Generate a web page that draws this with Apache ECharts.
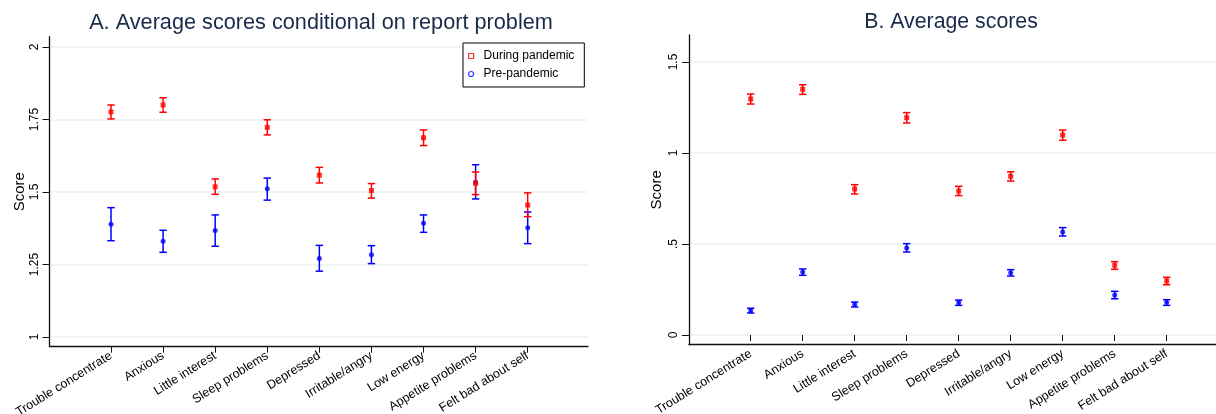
<!DOCTYPE html>
<html>
<head>
<meta charset="utf-8">
<script src="https://cdn.jsdelivr.net/npm/echarts@6/dist/echarts.min.js"></script>
<style>html,body{margin:0;padding:0;background:#fff;}#c{width:1216px;height:414px;}</style>
</head>
<body>
<div id="c"></div>
<script>
const categories = ['Trouble concentrate','Anxious','Little interest','Sleep problems','Depressed','Irritable/angry','Low energy','Appetite problems','Felt bad about self'];

// Panel A: average scores conditional on report problem
const A_during_mean = [1.776,1.800,1.518,1.723,1.558,1.505,1.687,1.530,1.455];
const A_during_lo   = [1.752,1.775,1.492,1.697,1.531,1.479,1.660,1.491,1.415];
const A_during_hi   = [1.800,1.825,1.545,1.749,1.585,1.529,1.714,1.569,1.497];
const A_pre_mean    = [1.389,1.330,1.367,1.511,1.271,1.284,1.392,1.534,1.377];
const A_pre_lo      = [1.332,1.292,1.313,1.472,1.227,1.253,1.361,1.476,1.322];
const A_pre_hi      = [1.446,1.368,1.421,1.548,1.316,1.315,1.421,1.594,1.431];

// Panel B: average scores
const B_during_mean = [1.297,1.350,0.802,1.194,0.791,0.872,1.099,0.383,0.297];
const B_during_lo   = [1.269,1.322,0.775,1.165,0.766,0.846,1.070,0.361,0.276];
const B_during_hi   = [1.324,1.375,0.826,1.222,0.817,0.897,1.126,0.403,0.317];
const B_pre_mean    = [0.134,0.346,0.168,0.478,0.178,0.342,0.566,0.220,0.180];
const B_pre_lo      = [0.121,0.328,0.154,0.456,0.163,0.324,0.544,0.199,0.163];
const B_pre_hi      = [0.147,0.363,0.181,0.502,0.192,0.359,0.590,0.240,0.194];

const A_ticks = [1, 1.25, 1.5, 1.75, 2];
const B_tickLabels = {0:'0', 0.5:'.5', 1:'1', 1.5:'1.5'};

const FONT = 'Liberation Sans, Arial, Helvetica, sans-serif';
const RED = '#ff0000', BLUE = '#0000ff';
const GRIDC = '#eaf2f3';
const AXC = '#111';

const chart = echarts.init(document.getElementById('c'), null, {renderer:'canvas'});

function errRender(color){
  return function(params, api){
    const x = api.value(0);
    const lo = api.coord([x, api.value(1)]);
    const hi = api.coord([x, api.value(2)]);
    const hw = 3.7;
    const st = {stroke: color, lineWidth: 1.5};
    return {type:'group', children:[
      {type:'line', shape:{x1:lo[0], y1:lo[1], x2:hi[0], y2:hi[1]}, style:st},
      {type:'line', shape:{x1:lo[0]-hw, y1:lo[1], x2:lo[0]+hw, y2:lo[1]}, style:st},
      {type:'line', shape:{x1:hi[0]-hw, y1:hi[1], x2:hi[0]+hw, y2:hi[1]}, style:st}
    ]};
  };
}
function ciData(lo, hi){ return categories.map((c,i)=>[i, lo[i], hi[i]]); }

const hidden = {show:false};
function frameX(gi){ return {gridIndex:gi, type:'value', min:0, max:1, axisLine:{show:true, onZero:false, lineStyle:{color:AXC, width:1.3}}, axisTick:hidden, axisLabel:hidden, splitLine:hidden}; }
function frameY(gi, gap){ return {gridIndex:gi, type:'value', min:0, max:1, axisLine:{show:true, onZero:false, lineStyle:{color:AXC, width:1.3}}, axisTick:hidden, axisLabel:hidden, splitLine:hidden,
  name:'Score', nameLocation:'middle', nameGap:gap, nameTextStyle:{fontFamily:FONT, fontSize:15, color:'#000'}}; }
function catX(gi){
  return {gridIndex:gi, type:'category', data:categories, boundaryGap:false, offset:9.7,
    axisLine:{show:false}, axisTick:{show:true, length:6, interval:0, lineStyle:{color:AXC, width:1}},
    axisLabel:{interval:0, rotate:32, fontSize:12.5, fontFamily:FONT, color:'#000', margin:8},
    splitLine:hidden};
}
function g(o){ return Object.assign({containLabel:false, outerBoundsMode:'none'}, o); }

const option = {
  animation:false,
  backgroundColor:'#fff',
  title:[
    {text:'A. Average scores conditional on report problem', left:316, top:7, textAlign:'center',
     textStyle:{fontFamily:FONT, fontSize:21.7, fontWeight:'normal', color:'#1a2a4a'}},
    {text:'B. Average scores', left:946, top:7, textAlign:'center',
     textStyle:{fontFamily:FONT, fontSize:21.3, fontWeight:'normal', color:'#1a2a4a'}}
  ],
  legend:{
    orient:'vertical', left:463, top:43, itemWidth:5, itemHeight:5, itemGap:6,
    padding:[7,10,7,5], borderColor:'#000', borderWidth:1, backgroundColor:'#fff',
    textStyle:{fontFamily:FONT, fontSize:12, color:'#000', padding:[0,0,0,5]},
    data:[
      {name:'During pandemic', icon:'rect', itemStyle:{color:'#fff', borderColor:RED, borderWidth:1.2}},
      {name:'Pre-pandemic', icon:'circle', itemStyle:{color:'#fff', borderColor:BLUE, borderWidth:1.2}}
    ]
  },
  grid:[
    g({left:49.5, top:36.7, width:538.5, height:310}),   // 0 frame A
    g({left:49.5, top:47, width:538.5, height:290}),     // 1 gridlines A
    g({left:111, top:47, width:416.7, height:290}),      // 2 data A
    g({left:689, top:35, width:540, height:309.7}),      // 3 frame B
    g({left:689, top:62, width:540, height:273}),        // 4 gridlines B
    g({left:750.7, top:62, width:416, height:273})       // 5 data B
  ],
  xAxis:[
    frameX(0),
    {gridIndex:1, type:'value', min:0, max:1, show:false},
    catX(2),
    frameX(3),
    {gridIndex:4, type:'value', min:0, max:1, show:false},
    catX(5)
  ],
  yAxis:[
    frameY(0, 22),
    {gridIndex:1, type:'value', min:A_ticks[0], max:A_ticks[A_ticks.length-1], interval:0.25,
     axisLine:{show:false}, axisTick:{show:true, length:7, lineStyle:{color:AXC}},
     axisLabel:{rotate:90, fontSize:12, fontFamily:FONT, color:'#000', margin:9},
     splitLine:{show:true, lineStyle:{color:GRIDC, width:1.5}}},
    {gridIndex:2, type:'value', min:A_ticks[0], max:A_ticks[A_ticks.length-1], show:false},
    frameY(3, 25),
    {gridIndex:4, type:'value', min:0, max:1.5, interval:0.5,
     axisLine:{show:false}, axisTick:{show:true, length:7, lineStyle:{color:AXC}},
     axisLabel:{rotate:90, fontSize:12, fontFamily:FONT, color:'#000', margin:9, formatter:v=>B_tickLabels[v] ?? String(v)},
     splitLine:{show:true, lineStyle:{color:GRIDC, width:1.5}}},
    {gridIndex:5, type:'value', min:0, max:1.5, show:false}
  ],
  series:[
    {name:'Pre-pandemic CI A', type:'custom', xAxisIndex:2, yAxisIndex:2, renderItem:errRender(BLUE), data:ciData(A_pre_lo, A_pre_hi), encode:{x:0, y:[1,2]}, z:2},
    {name:'Pre-pandemic', type:'scatter', xAxisIndex:2, yAxisIndex:2, symbol:'circle', symbolSize:5, itemStyle:{color:BLUE}, data:A_pre_mean, z:3},
    {name:'During pandemic CI A', type:'custom', xAxisIndex:2, yAxisIndex:2, renderItem:errRender(RED), data:ciData(A_during_lo, A_during_hi), encode:{x:0, y:[1,2]}, z:4},
    {name:'During pandemic', type:'scatter', xAxisIndex:2, yAxisIndex:2, symbol:'rect', symbolSize:5, itemStyle:{color:RED}, data:A_during_mean, z:5},

    {name:'Pre-pandemic CI B', type:'custom', xAxisIndex:5, yAxisIndex:5, renderItem:errRender(BLUE), data:ciData(B_pre_lo, B_pre_hi), encode:{x:0, y:[1,2]}, z:2},
    {name:'Pre-pandemic', type:'scatter', xAxisIndex:5, yAxisIndex:5, symbol:'circle', symbolSize:5, itemStyle:{color:BLUE}, data:B_pre_mean, z:3},
    {name:'During pandemic CI B', type:'custom', xAxisIndex:5, yAxisIndex:5, renderItem:errRender(RED), data:ciData(B_during_lo, B_during_hi), encode:{x:0, y:[1,2]}, z:4},
    {name:'During pandemic', type:'scatter', xAxisIndex:5, yAxisIndex:5, symbol:'rect', symbolSize:5, itemStyle:{color:RED}, data:B_during_mean, z:5}
  ]
};
chart.setOption(option);
</script>
</body>
</html>
